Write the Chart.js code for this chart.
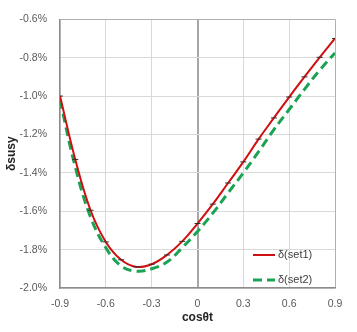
<!DOCTYPE html>
<html>
<head>
<meta charset="utf-8">
<script src="https://cdn.jsdelivr.net/npm/chart.js@4"></script>
<style>
  html, body { margin: 0; padding: 0; background: #fff; }
  #wrap { width: 357px; height: 332px; }
</style>
</head>
<body>
<div id="wrap"><canvas id="chart" width="357" height="332"></canvas></div>
<script>
// cos(theta_t) sample points
const cosTheta = [-0.9, -0.8, -0.7, -0.6, -0.5, -0.4, -0.3, -0.2, -0.1, 0,
                  0.1, 0.2, 0.3, 0.4, 0.5, 0.6, 0.7, 0.8, 0.9];
// delta susy in percent
const set1 = [-1.00, -1.33, -1.595, -1.76, -1.853, -1.89, -1.876, -1.828, -1.757, -1.664,
              -1.563, -1.453, -1.343, -1.224, -1.114, -1.005, -0.90, -0.798, -0.70];
const set2 = [-1.02, -1.37, -1.63, -1.79, -1.885, -1.912, -1.90, -1.865, -1.79, -1.705,
              -1.61, -1.505, -1.40, -1.29, -1.175, -1.07, -0.965, -0.865, -0.775];
const seriesLabels = ['δ(set1)', 'δ(set2)'];
const xTicks = [-0.9, -0.6, -0.3, 0, 0.3, 0.6, 0.9];
const yTicks = [-2.0, -1.8, -1.6, -1.4, -1.2, -1.0, -0.8, -0.6];

const toPts = vals => vals.map((v, i) => ({ x: cosTheta[i], y: v }));
const FONT = '"Liberation Sans", Arial, sans-serif';

// legend drawn inside the plot, lower right
const innerLegend = {
  id: 'innerLegend',
  afterDraw(chart) {
    const ctx = chart.ctx;
    const area = chart.chartArea;
    const x0 = area.right - 82, y0 = area.bottom - 33;
    chart.data.datasets.forEach((ds, i) => {
      const y = y0 + i * 25;
      ctx.save();
      ctx.strokeStyle = ds.borderColor;
      ctx.lineWidth = ds.borderWidth;
      ctx.setLineDash(ds.borderDash || []);
      ctx.beginPath();
      ctx.moveTo(x0, y);
      ctx.lineTo(x0 + 22, y);
      ctx.stroke();
      ctx.setLineDash([]);
      ctx.fillStyle = '#404040';
      ctx.font = '11px ' + FONT;
      ctx.textBaseline = 'middle';
      ctx.fillText(ds.label, x0 + 25, y);
      ctx.restore();
    });
  }
};

new Chart(document.getElementById('chart'), {
  type: 'line',
  data: {
    datasets: [{
      label: seriesLabels[0],
      data: toPts(set1),
      borderColor: '#d01010',
      borderWidth: 2,
      tension: 0.4,
      pointStyle: 'line',
      pointRadius: 3,
      pointBorderColor: '#303030',
      pointBorderWidth: 1
    }, {
      label: seriesLabels[1],
      data: toPts(set2),
      borderColor: '#1aa352',
      borderWidth: 3,
      borderDash: [9, 5],
      tension: 0.4,
      pointRadius: 0
    }]
  },
  options: {
    responsive: false,
    animation: false,
    layout: { padding: { left: 0, top: 12, right: 22, bottom: 0 } },
    plugins: { legend: { display: false }, tooltip: { enabled: false } },
    scales: {
      x: {
        type: 'linear',
        min: -0.9,
        max: 0.9,
        afterBuildTicks: s => { s.ticks = xTicks.map(v => ({ value: v })); },
        afterFit: s => { s.height = 44; },
        grid: {
          drawTicks: false,
          color: c => c.tick.value === 0 ? '#a6a6a6' : (c.tick.value === 0.9 ? '#b0b0b0' : '#d9d9d9'),
          lineWidth: c => c.tick.value === 0 ? 2 : 1
        },
        border: { color: '#8c8c8c', width: 1.5 },
        ticks: {
          padding: 10,
          color: '#595959',
          font: { family: FONT, size: 10.5 },
          callback: v => v === 0 ? '0' : v.toFixed(1)
        },
        title: {
          display: true,
          text: 'cosθt',
          color: '#262626',
          font: { family: FONT, size: 12, weight: 'bold' },
          padding: { top: 0, bottom: 7 }
        }
      },
      y: {
        min: -2.0,
        max: -0.6,
        afterBuildTicks: s => { s.ticks = yTicks.map(v => ({ value: v })); },
        afterFit: s => { s.width = 60; },
        grid: {
          drawTicks: false,
          color: c => c.tick.value === -0.6 ? '#b0b0b0' : '#d9d9d9'
        },
        border: { color: '#8c8c8c', width: 1.5 },
        ticks: {
          padding: 13,
          color: '#595959',
          font: { family: FONT, size: 10.5 },
          callback: v => v.toFixed(1) + '%'
        },
        title: {
          display: true,
          text: 'δsusy',
          color: '#262626',
          font: { family: FONT, size: 12, weight: 'bold' },
          padding: { top: 4, bottom: 0 }
        }
      }
    }
  },
  plugins: [innerLegend]
});
</script>
</body>
</html>
